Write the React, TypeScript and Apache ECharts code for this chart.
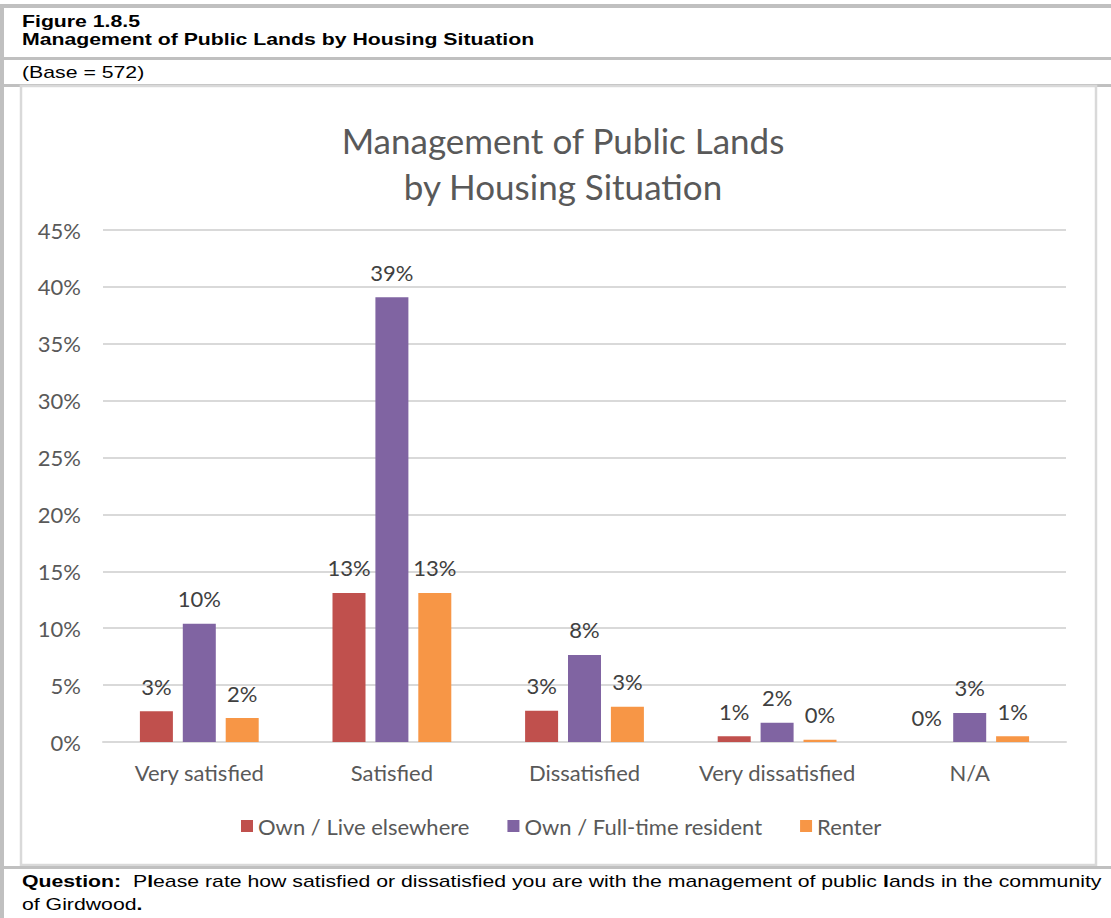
import React, { useEffect, useRef } from "react";
import * as echarts from "echarts";

const categories = ["Very satisfied", "Satisfied", "Dissatisfied", "Very dissatisfied", "N/A"];
const seriesNames = ["Own / Live elsewhere", "Own / Full-time resident", "Renter"];
const ownElsewhere = [2.7, 13.1, 2.75, 0.5, 0];
const ownFullTime = [10.4, 39.1, 7.65, 1.7, 2.55];
const renter = [2.1, 13.1, 3.1, 0.2, 0.5];
const seriesColors = ["#c0504d", "#8064a2", "#f79646"];
const yTicks = { min: 0, max: 45, interval: 5 };

const headerLines = ["Figure 1.8.5", "Management of Public Lands by Housing Situation"];
const baseText = "(Base = 572)";
const chartTitle = "Management of Public Lands\nby Housing Situation";

const W = 1111;
const H = 918;
const CHART_FONT = "Lato, 'Open Sans', sans-serif";
const DOC_FONT = "'Liberation Sans', Arial, sans-serif";
const SX = 1.25;
const DOC_SIZE = 17;

export default function App() {
  const ref = useRef<HTMLDivElement>(null);
  useEffect(() => {
    if (!ref.current) return;
    const chart = echarts.init(ref.current, undefined, { renderer: "svg" });
    const data = [ownElsewhere, ownFullTime, renter];
    const gray = "#c0c0c0";
    const docText = (text: string, y: number, bold: boolean) => ({
      type: "text",
      x: 22,
      y,
      scaleX: SX,
      style: {
        text,
        x: 0,
        y: 0,
        font: `${bold ? "bold " : ""}${DOC_SIZE}px ${DOC_FONT}`,
        fill: "#000",
        textVerticalAlign: "middle",
        rich: { b: { fontWeight: "bold", fontFamily: DOC_FONT, fontSize: DOC_SIZE, fill: "#000" } },
      },
    });
    const option: any = {
      animation: false,
      backgroundColor: "#ffffff",
      title: {
        text: chartTitle,
        left: 558,
        top: 112,
        textAlign: "center",
        textStyle: {
          fontFamily: CHART_FONT,
          fontSize: 35,
          fontWeight: "normal",
          color: "#595959",
          lineHeight: 46,
        },
      },
      legend: {
        data: seriesNames,
        left: 241,
        top: 815,
        padding: 0,
        itemWidth: 12,
        itemHeight: 12,
        itemGap: 38,
        icon: "rect",
        textStyle: { fontFamily: CHART_FONT, fontSize: 22, color: "#595959" },
      },
      grid: { left: 103, right: W - 1066, top: 230, bottom: H - 742 },
      xAxis: {
        type: "category",
        data: categories,
        axisLine: { lineStyle: { color: "#d9d9d9", width: 2 } },
        axisTick: { show: false },
        axisLabel: { interval: 0, fontFamily: CHART_FONT, fontSize: 22, color: "#595959", margin: 19 },
      },
      yAxis: {
        type: "value",
        min: yTicks.min,
        max: yTicks.max,
        interval: yTicks.interval,
        axisLine: { show: false },
        axisTick: { show: false },
        splitLine: { lineStyle: { color: "#d9d9d9", width: 2 } },
        axisLabel: {
          fontFamily: CHART_FONT,
          fontSize: 22,
          color: "#595959",
          margin: 22,
          formatter: "{value}%",
        },
      },
      series: seriesNames.map((name, i) => ({
        name,
        type: "bar",
        data: data[i],
        barWidth: 33,
        barGap: "30%",
        itemStyle: { color: seriesColors[i] },
        label: {
          show: true,
          position: "top",
          distance: 14,
          fontFamily: CHART_FONT,
          fontSize: 22,
          color: "#404040",
          formatter: (p: any) => Math.round(p.value) + "%",
        },
      })),
      graphic: [
        { type: "rect", shape: { x: 0, y: 4, width: W, height: 4 }, style: { fill: gray }, silent: true },
        { type: "rect", shape: { x: 0, y: 4, width: 4, height: H - 4 }, style: { fill: gray }, silent: true },
        { type: "rect", shape: { x: 4, y: 57, width: W, height: 3 }, style: { fill: gray }, silent: true },
        { type: "rect", shape: { x: 4, y: 84, width: W, height: 3 }, style: { fill: gray }, silent: true },
        {
          type: "rect",
          shape: { x: 21, y: 86, width: 1075, height: 779 },
          style: { fill: "none", stroke: "#d9d9d9", lineWidth: 2.5 },
          silent: true,
        },
        { type: "rect", shape: { x: 4, y: 866, width: W, height: 3 }, style: { fill: gray }, silent: true },
        docText(headerLines[0], 21, true),
        docText(headerLines[1], 39, true),
        docText(baseText, 72, false),
        docText(
          "{b|Question:}  P{b|l}ease rate how satisfied or dissatisfied you are with the management of public {b|l}ands in the community",
          881,
          false
        ),
        docText("of Girdwood{b|.}", 904, false),
      ],
    };
    chart.setOption(option);
    return () => chart.dispose();
  }, []);
  return (
    <div
      ref={ref}
      style={{ position: "fixed", left: 0, top: 0, width: W, height: H, background: "#fff" }}
    />
  );
}
